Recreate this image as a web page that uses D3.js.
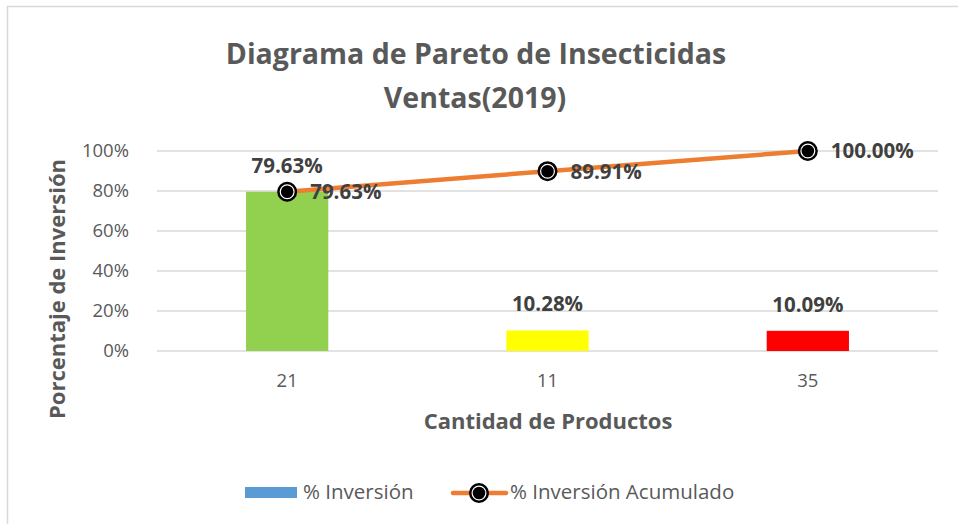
<!DOCTYPE html>
<html>
<head>
<meta charset="utf-8">
<script src="https://cdn.jsdelivr.net/npm/d3@7"></script>
<style>
  body { margin: 0; background: #fff; }
  text { font-family: "Open Sans", sans-serif; }
</style>
</head>
<body>
<div id="chart"></div>
<script>
var categorias = ["21", "11", "35"];
var inversion = [0.7963, 0.1028, 0.1009];
var acumulado = [0.7963, 0.8991, 1.0];
var yTicks = [0, 0.2, 0.4, 0.6, 0.8, 1.0];
var serieNombres = ["% Inversión", "% Inversión Acumulado"];
var coloresBarra = ["#92d050", "#ffff00", "#ff0000"];

var width = 958;
var height = 524;
var svg = d3.select('#chart')
            .append('svg')
            .attr('width', width)
            .attr('height', height);

// borde del grafico
svg.append('rect')
    .attr('x', 7.5)
    .attr('y', 6.5)
    .attr('width', 960)
    .attr('height', 530)
    .attr('fill', 'none')
    .attr('stroke', '#d9d9d9')
    .attr('stroke-width', 1.5);

var x = d3.scaleBand()
          .domain(categorias)
          .range([157, 938]);
var y = d3.scaleLinear()
          .domain([0, 1])
          .range([351, 151]);
var barW = x.bandwidth() * 0.316;

// lineas de cuadricula
svg.append('g')
    .selectAll('line')
    .data(yTicks)
    .enter()
    .append('line')
    .attr('x1', 157)
    .attr('x2', 938)
    .attr('y1', function (d) { return y(d); })
    .attr('y2', function (d) { return y(d); })
    .attr('stroke', '#d9d9d9')
    .attr('stroke-width', 1.3);

// eje y
var yAxis = svg.append('g')
    .attr('transform', 'translate(129,0)')
    .call(d3.axisLeft(y).tickValues(yTicks).tickFormat(d3.format('.0%')).tickSize(0).tickPadding(0));
yAxis.select('.domain').remove();
yAxis.selectAll('text')
    .attr('fill', '#595959')
    .style('font-size', '18.5px')
    .style('font-family', '"Open Sans", sans-serif');

// eje x
var xAxis = svg.append('g')
    .attr('transform', 'translate(0,351)')
    .call(d3.axisBottom(x).tickSize(0).tickPadding(0));
xAxis.select('.domain').remove();
xAxis.selectAll('text')
    .attr('dy', null)
    .attr('y', 36)
    .attr('fill', '#595959')
    .style('font-size', '18.5px')
    .style('font-family', '"Open Sans", sans-serif');

// barras
svg.selectAll('.bar')
    .data(inversion)
    .enter()
    .append('rect')
    .attr('class', 'bar')
    .attr('x', function (d, i) { return x(categorias[i]) + x.bandwidth() / 2 - barW / 2; })
    .attr('y', function (d) { return y(d); })
    .attr('width', barW)
    .attr('height', function (d) { return y(0) - y(d); })
    .attr('fill', function (d, i) { return coloresBarra[i]; });

svg.selectAll('.barlabel')
    .data(inversion)
    .enter()
    .append('text')
    .attr('class', 'barlabel')
    .attr('x', function (d, i) { return x(categorias[i]) + x.bandwidth() / 2; })
    .attr('y', function (d) { return y(d) - 19; })
    .style('text-anchor', 'middle')
    .style('font-size', '20.5px')
    .style('font-weight', 'bold')
    .attr('fill', '#404040')
    .text(function (d) { return d3.format('.2%')(d); });

// linea acumulada
var line = d3.line()
    .x(function (d, i) { return x(categorias[i]) + x.bandwidth() / 2; })
    .y(function (d) { return y(d); });

svg.append('path')
    .datum(acumulado)
    .attr('d', line)
    .attr('fill', 'none')
    .attr('stroke', '#ed7d31')
    .attr('stroke-width', 4.5)
    .attr('stroke-linecap', 'round');

function marker(g, cx, cy) {
    g.append('circle')
        .attr('cx', cx).attr('cy', cy).attr('r', 8.8)
        .attr('fill', '#000').attr('stroke', '#000').attr('stroke-width', 2.4);
    g.append('circle')
        .attr('cx', cx).attr('cy', cy).attr('r', 6.9)
        .attr('fill', 'none').attr('stroke', '#fff').attr('stroke-width', 1.2);
}

var markers = svg.append('g');
acumulado.forEach(function (d, i) {
    marker(markers, x(categorias[i]) + x.bandwidth() / 2, y(d));
});

svg.selectAll('.linelabel')
    .data(acumulado)
    .enter()
    .append('text')
    .attr('class', 'linelabel')
    .attr('x', function (d, i) { return x(categorias[i]) + x.bandwidth() / 2 + 23; })
    .attr('y', function (d) { return y(d); })
    .attr('dy', '0.36em')
    .style('font-size', '20.5px')
    .style('font-weight', 'bold')
    .attr('fill', '#404040')
    .text(function (d) { return d3.format('.2%')(d); });

// titulo
svg.append('text')
    .attr('x', 476)
    .attr('y', 64)
    .style('text-anchor', 'middle')
    .style('font-size', '28.5px')
    .style('font-weight', 'bold')
    .attr('fill', '#595959')
    .text('Diagrama de Pareto de Insecticidas');
svg.append('text')
    .attr('x', 475)
    .attr('y', 108)
    .style('text-anchor', 'middle')
    .style('font-size', '28.5px')
    .style('font-weight', 'bold')
    .attr('fill', '#595959')
    .text('Ventas(2019)');

// titulos de ejes
svg.append('text')
    .attr('transform', 'translate(65,289) rotate(-90)')
    .style('text-anchor', 'middle')
    .style('font-size', '22px')
    .style('font-weight', 'bold')
    .attr('fill', '#595959')
    .text('Porcentaje de Inversión');
svg.append('text')
    .attr('x', 548)
    .attr('y', 429)
    .style('text-anchor', 'middle')
    .style('font-size', '22px')
    .style('font-weight', 'bold')
    .attr('fill', '#595959')
    .text('Cantidad de Productos');

// leyenda
var legend = svg.append('g');
legend.append('rect')
    .attr('x', 245).attr('y', 487)
    .attr('width', 52).attr('height', 11)
    .attr('fill', '#5b9bd5');
legend.append('text')
    .attr('x', 303).attr('y', 499)
    .style('font-size', '20.5px')
    .attr('fill', '#595959')
    .text(serieNombres[0]);
legend.append('line')
    .attr('x1', 453).attr('x2', 506)
    .attr('y1', 493).attr('y2', 493)
    .attr('stroke', '#ed7d31')
    .attr('stroke-width', 4.5)
    .attr('stroke-linecap', 'round');
marker(legend, 479, 493);
legend.append('text')
    .attr('x', 510).attr('y', 499)
    .style('font-size', '20.5px')
    .attr('fill', '#595959')
    .text(serieNombres[1]);
</script>
</body>
</html>
